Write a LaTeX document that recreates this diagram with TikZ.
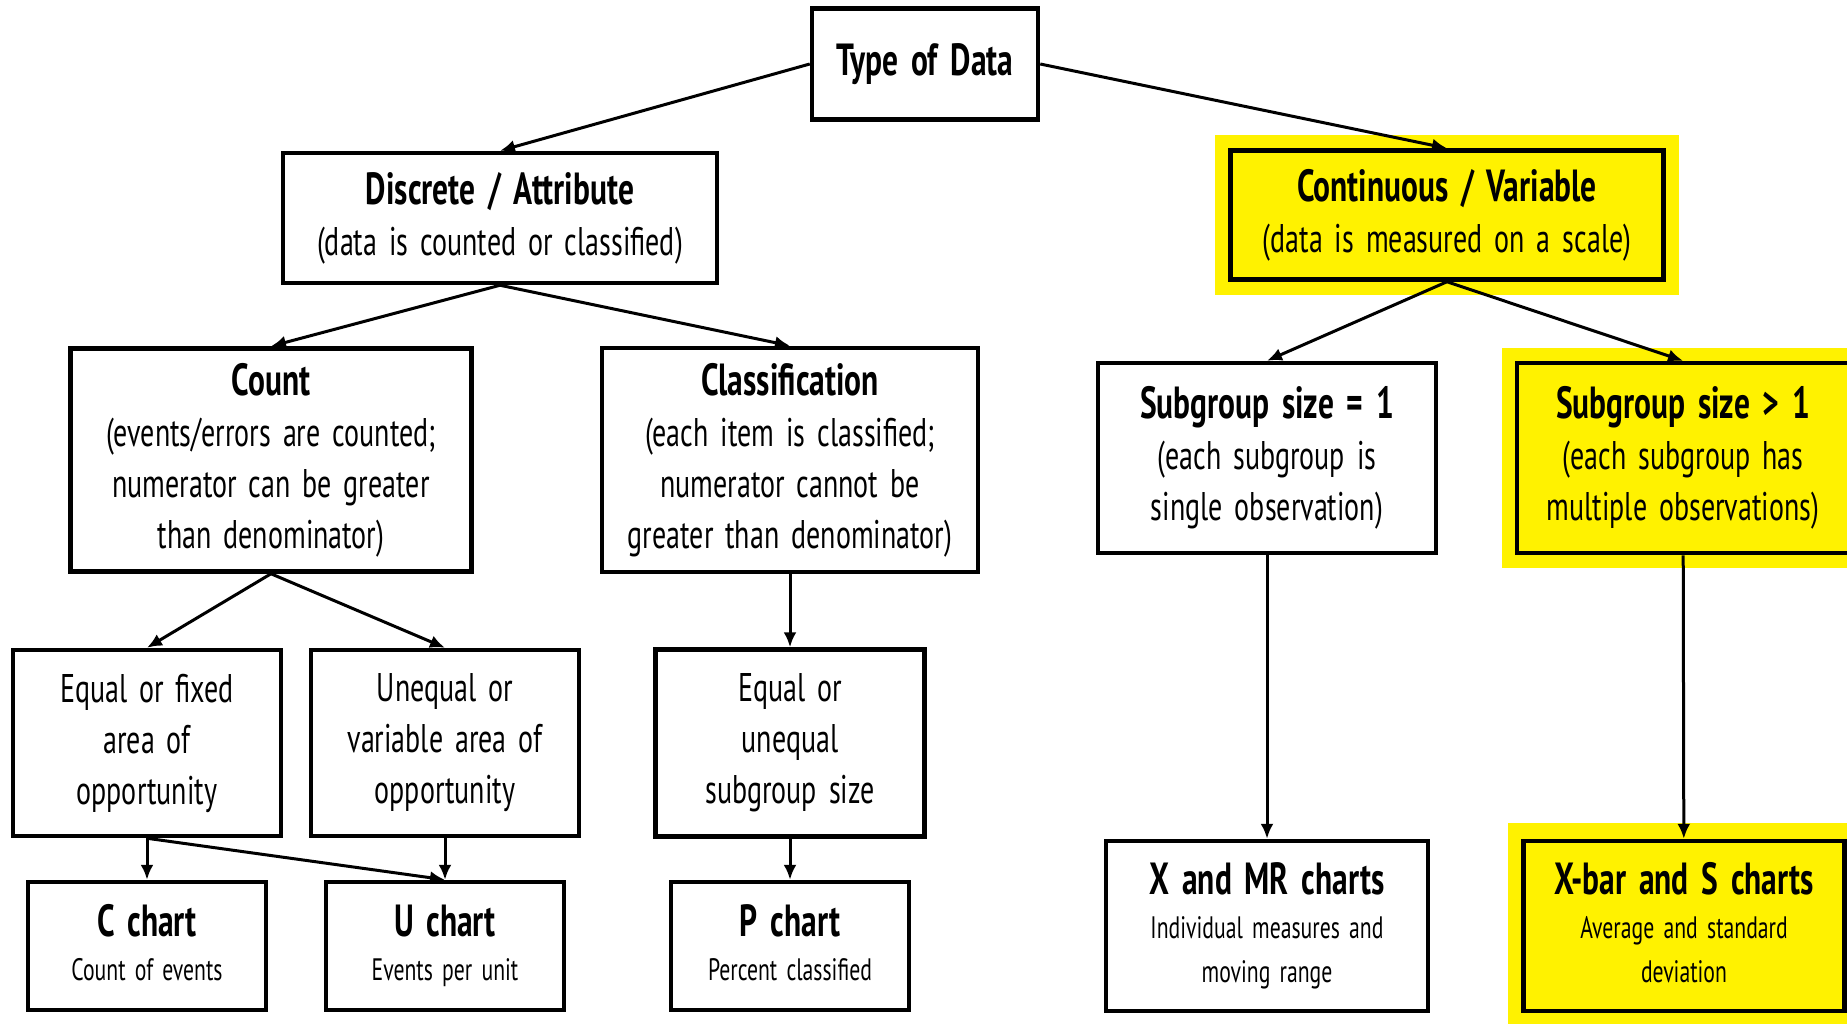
\documentclass[tikz,border=0pt]{standalone}
\usepackage{fontspec}
\setmainfont{PT Sans}[FakeStretch=0.70, WordSpace=1.6]
\usetikzlibrary{shapes,arrows.meta,fit,backgrounds}

\tikzstyle{line} = [draw, -{Latex[length=15pt, width=13pt]}, line width=3pt]
\tikzstyle{block} = [rectangle, draw, line width=4.5pt, fill=white,
  align=center, inner sep=0pt, font=\fontsize{40}{51}\selectfont]
\tikzstyle{yblock} = [block, fill=yellow]
\tikzstyle{chart} = [block, font=\fontsize{31}{44}\selectfont,
  execute at end node=\vphantom{p}]
\tikzstyle{ychart} = [chart, fill=yellow]

\newcommand{\ttl}[1]{{\fontsize{45}{51}\selectfont\bfseries #1}}

\begin{document}
\begin{tikzpicture}[x=1pt, y=-1pt]
  \useasboundingbox (0,0) rectangle (1847,1023);
  \clip (0,0) rectangle (1847,1023);

  \node [block, minimum width=226, minimum height=111] (type) at (925,64) {\ttl{Type of Data}};
  \node [block, minimum width=434, minimum height=130] (discrete) at (500,218)
    {\ttl{Discrete / Attribute}\\(data is counted or classified)};
  \node [yblock, minimum width=433, minimum height=129] (cont) at (1447,215)
    {\ttl{Continuous / Variable}\\(data is measured on a scale)};

  \node [block, minimum width=401, minimum height=223] (count) at (271,460)
    {\ttl{Count}\\(events/errors are counted;\\numerator can be greater\\than denominator)};
  \node [block, minimum width=376, minimum height=224] (classif) at (790,460)
    {\ttl{Classification}\\(each item is classified;\\numerator cannot be\\greater than denominator)};
  \node [block, minimum width=338, minimum height=190] (subone) at (1267,458)
    {\ttl{Subgroup size = 1}\\(each subgroup is\\single observation)};
  \node [yblock, minimum width=332, minimum height=190] (submany) at (1683,458)
    {\ttl{Subgroup size > 1}\\(each subgroup has\\multiple observations)};

  \node [block, minimum width=268, minimum height=186] (fixed) at (147,743)
    {Equal or fixed\\area of\\opportunity};
  \node [block, minimum width=268, minimum height=186] (variable) at (445,743)
    {Unequal or\\variable area of\\opportunity};
  \node [block, minimum width=269, minimum height=187] (subsize) at (790,743)
    {Equal or\\unequal\\subgroup size};

  \node [chart, minimum width=238, minimum height=128] (cchart) at (147,946)
    {\ttl{C chart}\\Count of events};
  \node [chart, minimum width=238, minimum height=128] (uchart) at (445,946)
    {\ttl{U chart}\\Events per unit};
  \node [chart, minimum width=238, minimum height=128] (pchart) at (790,946)
    {\ttl{P chart}\\Percent classified};
  \node [chart, minimum width=322, minimum height=170] (xmr) at (1267,926)
    {\ttl{X and MR charts}\\Individual measures and\\moving range};
  \node [ychart, minimum width=321, minimum height=170] (xbar) at (1684,926)
    {\ttl{X-bar and S charts}\\Average and standard\\deviation};

  \tikzset{hilite/.style={rectangle, fill=yellow, inner sep=13pt}};
  \begin{scope}[on background layer]
    \node [hilite, fit=(cont)] (contglow) {};
    \node [hilite, fit=(submany)] (submanyglow) {};
    \node [hilite, fit=(xbar), inner ysep=16pt] (xbarglow) {};
  \end{scope}

  \path [line] (type.west) -- (discrete.north);
  \path [line] (type.east) -- (cont.north);
  \path [line] (discrete.south) -- (count.north);
  \path [line] (discrete.south) -- (classif.north);
  \path [line] (cont.south) -- (subone.north);
  \path [line] (cont.south) -- (submany.north);
  \path [line] (count.south) -- (fixed.north);
  \path [line] (count.south) -- (variable.north);
  \path [line] (classif) -- (subsize);
  \path [line] (fixed) -- (cchart);
  \path [line] (fixed.south) -- (uchart.north);
  \path [line] (variable) -- (uchart);
  \path [line] (subsize) -- (pchart);
  \path [line] (subone) -- (xmr);
  \path [line] (submany) -- (xbar);

\end{tikzpicture}
\end{document}
